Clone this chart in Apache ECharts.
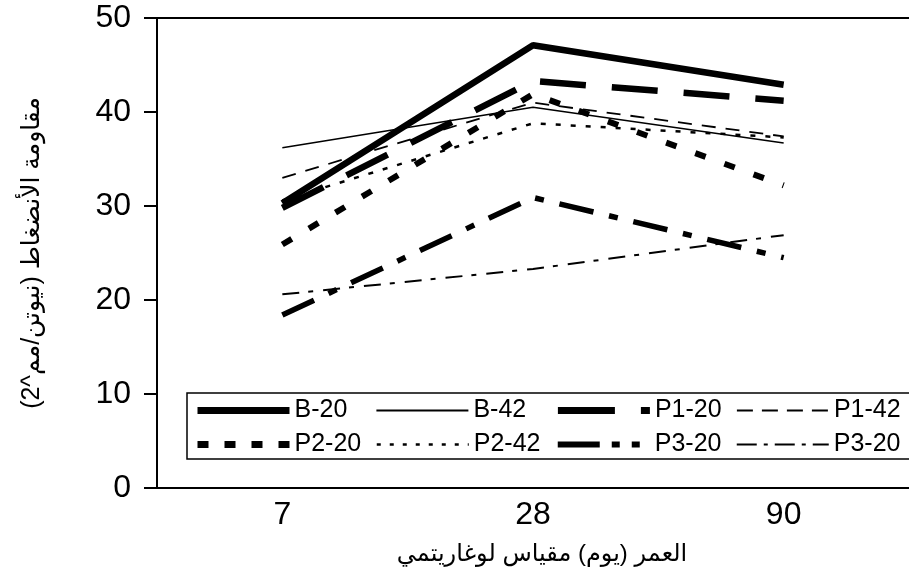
<!DOCTYPE html>
<html>
<head>
<meta charset="utf-8">
<script src="https://cdn.jsdelivr.net/npm/echarts@6/dist/echarts.min.js"></script>
<style>html,body{margin:0;padding:0;background:#fff}#c{width:909px;height:580px}</style>
</head>
<body>
<div id="c"></div>
<script>
const categories = ['7', '28', '90'];
const seriesNames = ['B-20', 'B-42', 'P1-20', 'P1-42', 'P2-20', 'P2-42', 'P3-20', 'P3-20 '];
const b20 = [30.3, 47.1, 42.9];
const b42 = [36.2, 40.5, 36.7];
const p1_20 = [29.8, 43.3, 41.2];
const p1_42 = [33.0, 41.0, 37.4];
const p2_20 = [25.9, 41.9, 32.2];
const p2_42 = [30.6, 38.8, 37.3];
const p3_20a = [18.4, 30.9, 24.5];
const p3_20b = [20.6, 23.3, 26.9];
const yTicks = [0, 10, 20, 30, 40, 50];

const FONT = "'Liberation Sans', Arial, 'DejaVu Sans', sans-serif";
const values = [b20, b42, p1_20, p1_42, p2_20, p2_42, p3_20a, p3_20b];
const styles = [
  {width: 6.5, type: 'solid'},
  {width: 1.5, type: 'solid'},
  {width: 6.5, type: [46, 26]},
  {width: 1.8, type: [14, 10]},
  {width: 6, type: [11, 20]},
  {width: 2.5, type: [5, 10]},
  {width: 5.5, type: [35, 16, 9, 16]},
  {width: 2, type: [17, 9, 5, 10]}
];
const legendStyles = [
  {width: 7, type: 'solid'},
  {width: 1.8, type: 'solid'},
  {width: 7, type: [57, 26]},
  {width: 2, type: [16, 9]},
  {width: 7, type: [11, 16]},
  {width: 2.5, type: [4, 9]},
  {width: 6, type: [42, 12, 8, 12, 8, 10]},
  {width: 2, type: [20, 7, 4, 7]}
];

const chart = echarts.init(document.getElementById('c'), null, {renderer: 'canvas'});
chart.setOption({
  animation: false,
  backgroundColor: '#fff',
  textStyle: {fontFamily: FONT, color: '#000'},
  grid: {left: 157, top: 18, right: -7, bottom: 92, containLabel: false},
  legend: {
    data: seriesNames.map((n, i) => ({
      name: n,
      lineStyle: {color: '#000', width: legendStyles[i].width, type: legendStyles[i].type, cap: 'butt', opacity: 1},
      itemStyle: {opacity: 0, borderWidth: 0}
    })),
    left: 187, top: 393, width: 770,
    padding: [4, 4, 1, 7],
    borderColor: '#000', borderWidth: 1.5, backgroundColor: '#fff',
    itemWidth: 92, itemHeight: 14, itemGap: 7,
    selectedMode: false,
    formatter: n => n.trim(),
    textStyle: {fontSize: 25, color: '#000', fontFamily: FONT, width: 74, lineHeight: 27}
  },
  xAxis: [{
    type: 'category', data: categories, boundaryGap: true,
    axisLine: {lineStyle: {color: '#000', width: 2}},
    axisTick: {show: false},
    axisLabel: {fontSize: 32, color: '#000', margin: 11, fontFamily: FONT},
    name: '\u202Bالعمر (يوم) مقياس لوغاريتمي\u202C',
    nameLocation: 'middle', nameGap: 54,
    nameTextStyle: {fontSize: 24, color: '#000', fontFamily: FONT, padding: [0, 0, 0, 18]}
  }, {
    type: 'category', data: categories, position: 'top',
    axisLine: {show: true, lineStyle: {color: '#000', width: 2}},
    axisTick: {show: false}, axisLabel: {show: false}
  }],
  yAxis: {
    type: 'value', min: yTicks[0], max: yTicks[yTicks.length - 1], interval: 10,
    axisLine: {show: true, lineStyle: {color: '#000', width: 2}},
    axisTick: {show: true, inside: false, length: 13, lineStyle: {color: '#000', width: 2}},
    splitLine: {show: false},
    axisLabel: {fontSize: 32, color: '#000', margin: 26, fontFamily: FONT},
    name: '\u202Bمقاومة الأنضغاط (نيوتن/مم^2)\u202C',
    nameLocation: 'middle', nameGap: 112, nameRotate: 90,
    nameTextStyle: {fontSize: 25, color: '#000', fontFamily: FONT}
  },
  series: seriesNames.map((n, i) => ({
    name: n, type: 'line', data: values[i],
    showSymbol: false, symbol: 'none',
    lineStyle: {color: '#000', width: styles[i].width, type: styles[i].type, cap: 'butt'},
    itemStyle: {color: '#000'}
  }))
});
</script>
</body>
</html>
